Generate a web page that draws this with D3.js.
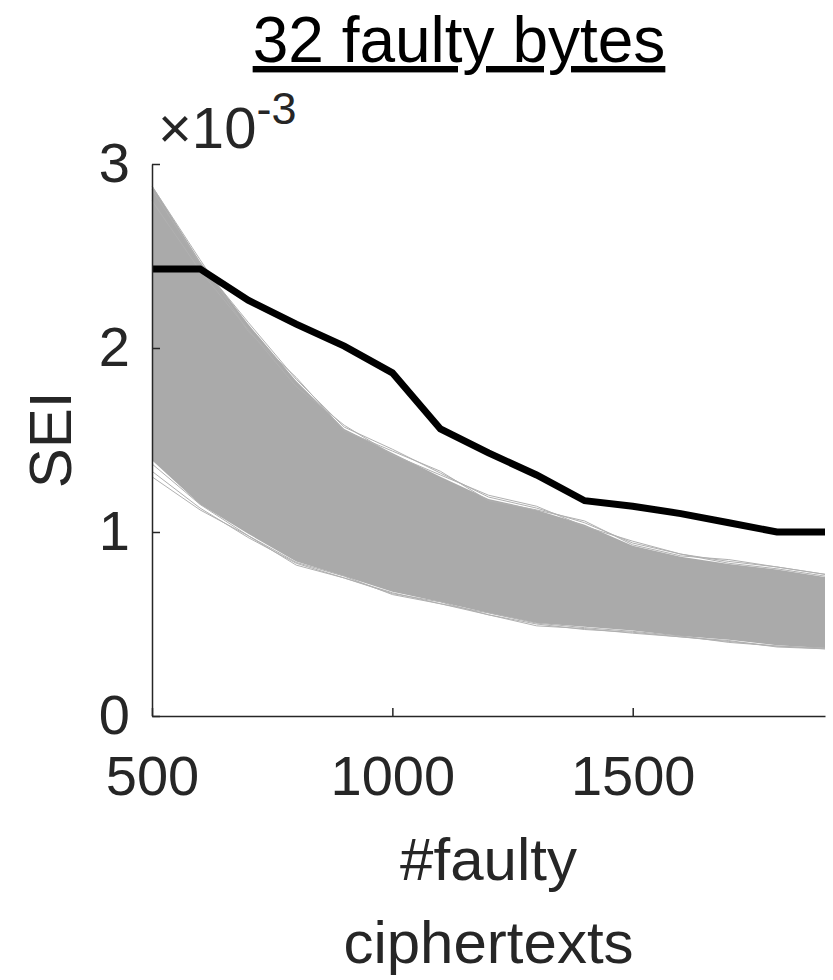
<html>
  <head>
    <script src="https://cdn.jsdelivr.net/npm/d3@7"></script>
    <style>
      body { margin: 0; background: #fff; }
      text { font-family: "Liberation Sans", Arial, sans-serif; }
    </style>
  </head>
  <body>
    <script>
      // number of faulty ciphertexts
      const nFaulty = [500, 600, 700, 800, 900, 1000, 1100, 1200, 1300, 1400, 1500, 1600, 1700, 1800, 1900];

      // SEI (x1e-3) for the correct key guess
      const seiCorrect = [2.43, 2.43, 2.26, 2.13, 2.01, 1.865, 1.56, 1.43, 1.31, 1.17, 1.14, 1.10, 1.05, 1.00, 1.00];

      // envelope of the wrong key guesses (the grey band)
      const bandUpper = [2.885, 2.47, 2.13, 1.82, 1.56, 1.43, 1.30, 1.18, 1.12, 1.04, 0.925, 0.865, 0.826, 0.796, 0.756];
      const bandLower = [1.39, 1.15, 0.99, 0.84, 0.76, 0.675, 0.62, 0.56, 0.505, 0.485, 0.465, 0.435, 0.415, 0.385, 0.37];

      // a few wrong guesses that stick out at the band edges
      const edgeGuesses = [
        [2.86, 2.46, 2.14, 1.83, 1.57, 1.45, 1.32, 1.19, 1.13, 1.05, 0.94, 0.88, 0.84, 0.81, 0.77],
        [2.80, 2.42, 2.10, 1.79, 1.58, 1.42, 1.31, 1.20, 1.14, 1.03, 0.95, 0.88, 0.83, 0.80, 0.76],
        [2.88, 2.48, 2.09, 1.84, 1.55, 1.44, 1.33, 1.17, 1.12, 1.06, 0.93, 0.87, 0.85, 0.81, 0.77],
        [1.33, 1.13, 0.97, 0.83, 0.75, 0.67, 0.61, 0.55, 0.50, 0.47, 0.455, 0.43, 0.405, 0.38, 0.365],
        [1.30, 1.12, 0.98, 0.82, 0.75, 0.665, 0.62, 0.55, 0.49, 0.475, 0.45, 0.43, 0.41, 0.375, 0.365],
        [1.37, 1.15, 0.98, 0.835, 0.76, 0.66, 0.61, 0.56, 0.505, 0.48, 0.46, 0.435, 0.40, 0.38, 0.37]
      ];

      const xTicks = [500, 1000, 1500];
      const yTicks = [0, 1, 2, 3];

      const width = 833, height = 980;
      const plotLeft = 152, plotRight = 825, plotTop = 164, plotBottom = 716;
      const axisColor = "#262626";

      const svg = d3.select("body")
          .append("svg")
          .attr("width", width)
          .attr("height", height);

      const x = d3.scaleLinear().domain([500, 1900]).range([plotLeft, plotRight]);
      const y = d3.scaleLinear().domain([0, 3]).range([plotBottom, plotTop]);

      // grey band
      const band = d3.area()
          .x((d, i) => x(nFaulty[i]))
          .y0((d, i) => y(bandLower[i]))
          .y1(d => y(d));

      svg.append("path")
          .datum(bandUpper)
          .attr("fill", "#aaaaaa")
          .attr("d", band);

      const line = d3.line()
          .x((d, i) => x(nFaulty[i]))
          .y(d => y(d));

      svg.selectAll(".guess")
          .data(edgeGuesses)
          .join("path")
          .attr("class", "guess")
          .attr("fill", "none")
          .attr("stroke", "#b0b0b0")
          .attr("stroke-width", 1)
          .attr("d", line);

      // correct key
      svg.append("path")
          .datum(seiCorrect)
          .attr("fill", "none")
          .attr("stroke", "#000")
          .attr("stroke-width", 7)
          .attr("d", line);

      // axes
      const yAxis = svg.append("g")
          .attr("transform", `translate(${plotLeft},0)`)
          .call(d3.axisLeft(y).tickValues(yTicks).tickFormat(d3.format("d"))
            .tickSizeInner(-8).tickSizeOuter(0).tickPadding(22));

      const xAxis = svg.append("g")
          .attr("transform", `translate(0,${plotBottom})`)
          .call(d3.axisBottom(x).tickValues(xTicks).tickFormat(d3.format("d"))
            .tickSizeInner(-8).tickSizeOuter(0).tickPadding(39));

      [yAxis, xAxis].forEach(g => {
        g.select(".domain").attr("stroke", axisColor).attr("stroke-width", 1.5);
        g.selectAll(".tick line").attr("stroke", axisColor).attr("stroke-width", 1.5);
        g.selectAll(".tick text")
          .attr("fill", axisColor)
          .style("font-size", "56px");
      });

      // exponent label
      const expo = svg.append("text")
          .attr("x", 158)
          .attr("y", 148)
          .attr("fill", axisColor)
          .style("font-size", "58px");
      expo.append("tspan").text("\u00d710");
      expo.append("tspan")
          .attr("dy", -24)
          .style("font-size", "45px")
          .text("-3");

      // y label
      svg.append("text")
          .attr("transform", `translate(71,${(plotTop + plotBottom) / 2}) rotate(-90)`)
          .attr("text-anchor", "middle")
          .attr("fill", axisColor)
          .style("font-size", "60px")
          .text("SEI");

      // x label, two lines
      const xLabel = svg.append("text")
          .attr("text-anchor", "middle")
          .attr("fill", axisColor)
          .style("font-size", "60px");
      xLabel.append("tspan").attr("x", (plotLeft + plotRight) / 2).attr("y", 880).text("#faulty");
      xLabel.append("tspan").attr("x", (plotLeft + plotRight) / 2).attr("y", 963).text("ciphertexts");

      // title
      svg.append("text")
          .attr("x", 459)
          .attr("y", 62)
          .attr("text-anchor", "middle")
          .attr("fill", "#000")
          .attr("text-decoration", "underline")
          .style("font-size", "64px")
          .text("32 faulty bytes");
    </script>
  </body>
</html>
